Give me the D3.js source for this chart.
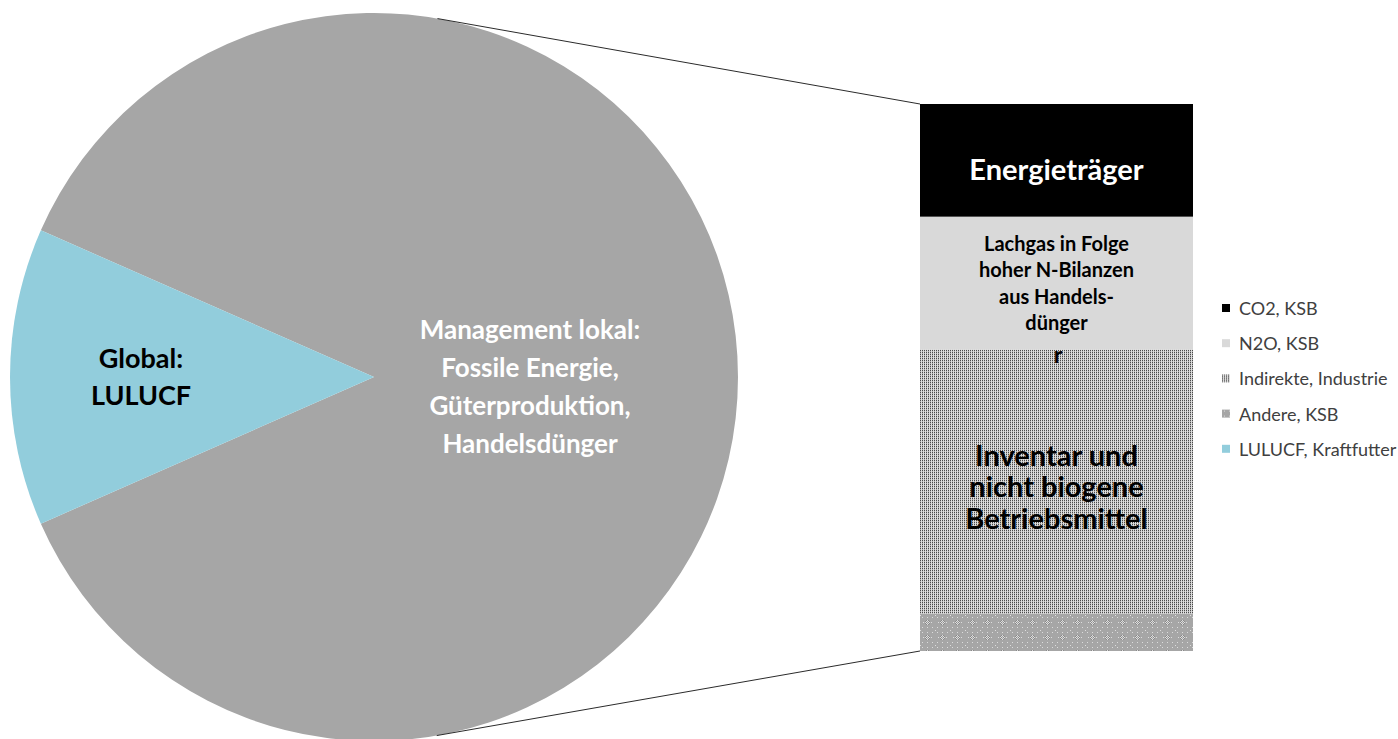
<!DOCTYPE html>
<html>
<head>
<meta charset="utf-8">
<script src="https://cdn.jsdelivr.net/npm/d3@7"></script>
<style>
  html, body { margin: 0; padding: 0; background: #fff; }
  svg { display: block; }
  text { font-family: Lato, "Open Sans", sans-serif; }
</style>
</head>
<body>
<svg id="chart" width="1398" height="739"></svg>
<script>
// Shares of emissions (%)
const categories = ["CO2, KSB", "N2O, KSB", "Indirekte, Industrie", "Andere, KSB", "LULUCF, Kraftfutter"];
const values = [17.9, 21.1, 41.9, 5.9, 13.2];
// the first four series are gathered into one pie slice and split out in the bar
const barCount = 4;
const fills = ["#000000", "#d9d9d9", "url(#patIndirekte)", "url(#patAndere)", "#92cddc"];
const pieOtherFill = "#a6a6a6";

const pieLabelOther = ["Management lokal:", "Fossile Energie,", "Güterproduktion,", "Handelsdünger"];
const pieLabelLulucf = ["Global:", "LULUCF"];
const barLabels = [
  ["Energieträger"],
  ["Lachgas in Folge", "hoher N-Bilanzen", "aus Handels-", "dünger"],
  ["Inventar und", "nicht biogene", "Betriebsmittel"],
  []
];

const svg = d3.select("#chart");
const defs = svg.append("defs");

// fine dotted pattern
const p1 = defs.append("pattern").attr("id", "patIndirekte")
  .attr("patternUnits", "userSpaceOnUse").attr("width", 2).attr("height", 2);
p1.append("rect").attr("width", 2).attr("height", 2).attr("fill", "#dedede");
p1.append("rect").attr("x", 0).attr("y", 0).attr("width", 1).attr("height", 1).attr("fill", "#4a4a4a");
p1.append("rect").attr("x", 0).attr("y", 1).attr("width", 1).attr("height", 1).attr("fill", "#b4b4b4");

// diamond dot pattern on gray
const p2 = defs.append("pattern").attr("id", "patAndere")
  .attr("patternUnits", "userSpaceOnUse").attr("width", 15).attr("height", 15)
  .attr("x", 920).attr("y", 615);
p2.append("rect").attr("width", 15).attr("height", 15).attr("fill", "#a6a6a6");
[[7,5],[6,6],[8,6],[5,7],[7,7],[9,7],[6,8],[8,8],[7,9],[3,7],[11,7],[7,2],[7,12],[0,0],[2,2],[12,12],[2,12],[12,2]].forEach(([x, y]) => {
  p2.append("rect").attr("x", x).attr("y", y).attr("width", 1).attr("height", 1).attr("fill", "#dcdcdc");
});
[[6,5],[8,5],[5,6],[9,6],[6,7],[8,7],[5,8],[9,8],[6,9],[8,9]].forEach(([x, y]) => {
  p2.append("rect").attr("x", x).attr("y", y).attr("width", 1).attr("height", 1).attr("fill", "#8a8a8a");
});

// ---- pie ----
const cx = 374, cy = 377, R = 364;
const total = d3.sum(values);
const otherSum = d3.sum(values.slice(0, barCount));
const lulucf = values[barCount];
const half = (lulucf / total) * Math.PI; // half the LULUCF angle

const pie = d3.pie().sort(null).value(d => d.v)
  .startAngle(-Math.PI / 2 + half)
  .endAngle(3 * Math.PI / 2 + half);
const arcs = pie([{ v: otherSum, fill: pieOtherFill }, { v: lulucf, fill: fills[barCount] }]);
const arcGen = d3.arc().innerRadius(0).outerRadius(R);

const gPie = svg.append("g").attr("transform", `translate(${cx},${cy})`);
gPie.selectAll("path").data(arcs).join("path")
  .attr("d", arcGen).attr("fill", d => d.data.fill);

// ---- bar ----
const barX = 920, barW = 273;
const y = d3.scaleLinear().domain([0, otherSum]).range([104, 651]);
let acc = 0;
const segs = values.slice(0, barCount).map((v, i) => {
  const s = { i, y0: acc, y1: acc + v };
  acc += v;
  return s;
});
const gBar = svg.append("g");
gBar.selectAll("rect").data(segs).join("rect")
  .attr("x", barX).attr("width", barW)
  .attr("y", d => y(d.y0)).attr("height", d => y(d.y1) - y(d.y0))
  .attr("fill", d => fills[d.i]);

// ---- connector lines, tangent to the pie from the bar corners ----
function tangent(px, py, upper) {
  const vx = px - cx, vy = py - cy;
  const d = Math.hypot(vx, vy);
  const a = Math.atan2(vy, vx);
  const al = Math.acos(R / d);
  const t = upper ? a - al : a + al;
  return [cx + R * Math.cos(t), cy + R * Math.sin(t)];
}
const topP = tangent(barX, y(0), true);
const botP = tangent(barX, y(otherSum), false);
svg.append("line").attr("x1", topP[0]).attr("y1", topP[1]).attr("x2", barX).attr("y2", y(0))
  .attr("stroke", "#2b2b2b").attr("stroke-width", 1);
svg.append("line").attr("x1", botP[0]).attr("y1", botP[1]).attr("x2", barX).attr("y2", y(otherSum))
  .attr("stroke", "#2b2b2b").attr("stroke-width", 1);

// ---- labels ----
function block(lines, x, yc, size, lh, color) {
  const n = lines.length;
  const t = svg.append("text").attr("text-anchor", "middle")
    .attr("font-size", size).attr("font-weight", "bold").attr("fill", color);
  lines.forEach((l, k) => {
    t.append("tspan").attr("x", x)
      .attr("y", yc + (k - (n - 1) / 2) * lh)
      .attr("dominant-baseline", "central").text(l);
  });
}
block(pieLabelOther, 530, 386, 26, 38, "#ffffff");
block(pieLabelLulucf, 141, 376, 27, 37, "#000000");

const labelStyle = [
  { size: 29, lh: 30, color: "#ffffff", dy: 8 },
  { size: 20, lh: 26.5, color: "#000000", dy: -1 },
  { size: 29, lh: 31.5, color: "#000000", dy: 4 },
  { size: 16, lh: 20, color: "#000000", dy: 0 }
];
segs.forEach(s => {
  const st = labelStyle[s.i];
  const yc = (y(s.y0) + y(s.y1)) / 2 + st.dy;
  block(barLabels[s.i], barX + barW / 2, yc, st.size, st.lh, st.color);
});
// wrapped remainder of the N2O label
svg.append("text").attr("x", 1058).attr("y", 354).attr("text-anchor", "middle")
  .attr("dominant-baseline", "central").attr("font-size", 23).attr("font-weight", "bold")
  .attr("fill", "#000").text("r");

// ---- legend ----
const gLeg = svg.append("g").attr("transform", "translate(1222,308)");
const leg = gLeg.selectAll("g").data(categories).join("g")
  .attr("transform", (d, i) => `translate(0,${i * 35.2})`);
leg.append("rect").attr("x", 0).attr("y", -4).attr("width", 8).attr("height", 8)
  .attr("fill", (d, i) => fills[i]);
leg.append("text").attr("x", 17).attr("y", 0).attr("dominant-baseline", "central")
  .attr("font-size", 18).attr("fill", "#404040").text(d => d);
</script>
</body>
</html>
